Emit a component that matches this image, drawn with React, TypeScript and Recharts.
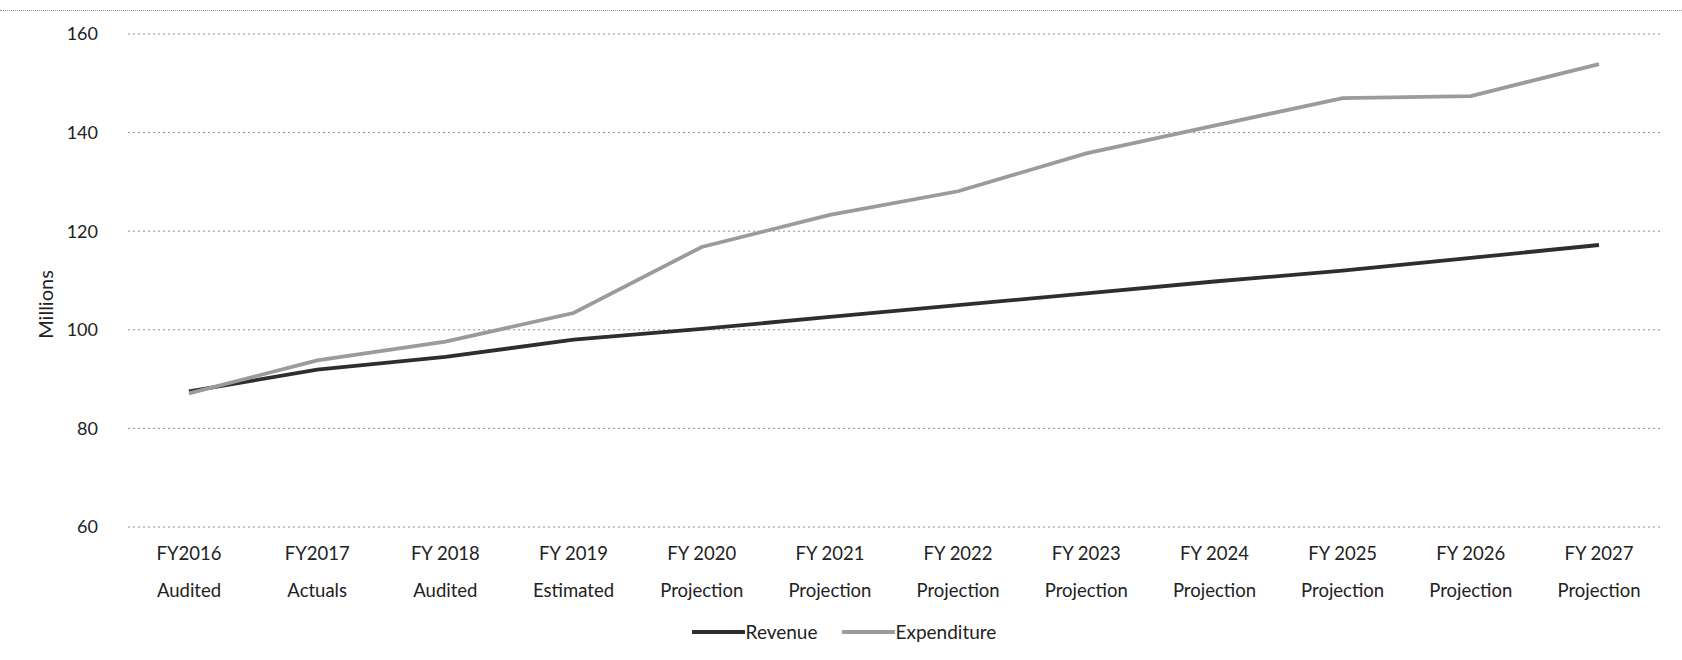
import React from 'react';
import { LineChart, Line, XAxis, YAxis, CartesianGrid, Legend, Label } from 'recharts';

const years = ['FY2016', 'FY2017', 'FY 2018', 'FY 2019', 'FY 2020', 'FY 2021', 'FY 2022', 'FY 2023', 'FY 2024', 'FY 2025', 'FY 2026', 'FY 2027'];
const stages = ['Audited', 'Actuals', 'Audited', 'Estimated', 'Projection', 'Projection', 'Projection', 'Projection', 'Projection', 'Projection', 'Projection', 'Projection'];
const revenue = [87.5, 91.9, 94.5, 98.0, 100.2, 102.6, 105.0, 107.4, 109.8, 112.0, 114.6, 117.2];
const expenditure = [87.1, 93.8, 97.6, 103.4, 116.8, 123.3, 128.1, 135.8, 141.4, 147.0, 147.4, 153.9];
const yTicks = [60, 80, 100, 120, 140, 160];

const data = years.map((y, i) => ({ year: y, stage: stages[i], Revenue: revenue[i], Expenditure: expenditure[i] }));

const FONT = 'Lato, "Open Sans", sans-serif';

const XTick = (props: any) => {
  const { x, y, payload, index } = props;
  const i = typeof index === 'number' ? index : years.indexOf(payload.value);
  return (
    <g transform={`translate(${x},${y})`}>
      <text textAnchor="middle" fontFamily={FONT} fontSize={18.5} fill="#222">
        <tspan x={0} y={32.5}>{payload.value}</tspan>
        <tspan x={0} y={70}>{stages[i]}</tspan>
      </text>
    </g>
  );
};

const LegendContent = () => {
  const items = [
    { name: 'Revenue', color: '#2e2e2e' },
    { name: 'Expenditure', color: '#9b9b9b' },
  ];
  return (
    <div style={{ display: 'flex', justifyContent: 'center', height: 40, lineHeight: '24px', paddingLeft: 25 }}>
      {items.map((it, k) => (
        <div key={it.name} style={{ display: 'flex', alignItems: 'center', marginLeft: k === 0 ? 0 : 24, height: 24 }}>
          <svg width={53} height={8} style={{ display: 'block' }}>
            <line x1={1} y1={4} x2={52} y2={4} stroke={it.color} strokeWidth={4} strokeLinecap="round" />
          </svg>
          <span style={{ fontFamily: FONT, fontSize: 19, color: '#222', marginLeft: 1 }}>{it.name}</span>
        </div>
      ))}
    </div>
  );
};

const YLabel = (props: any) => {
  const vb = props.viewBox || { x: 0, y: 34, width: 128, height: 493 };
  const cx = 45;
  const cy = vb.y + vb.height / 2 + 24;
  return (
    <text x={cx} y={cy} transform={`rotate(-90, ${cx}, ${cy})`} textAnchor="middle" dominantBaseline="central" fontFamily={FONT} fontSize={20} fill="#222">
      Millions
    </text>
  );
};

export default function App() {
  return (
    <div style={{ position: 'absolute', left: 0, top: 0, width: 1682, height: 660, background: '#fff' }}>
      <div style={{ position: 'absolute', left: 0, top: 10, width: 1682, borderTop: '1px dotted #8a8a8a' }} />
      <LineChart width={1682} height={660} data={data} margin={{ top: 34, right: 19, left: 0, bottom: 0 }}>
        <CartesianGrid vertical={false} stroke="#8f8f8f" strokeDasharray="2 3" />
        <XAxis
          dataKey="year"
          axisLine={false}
          tickLine={false}
          tickSize={0}
          tickMargin={0}
          height={93}
          interval={0}
          padding={{ left: 61, right: 64 }}
          tick={<XTick />}
        />
        <YAxis
          domain={[60, 160]}
          ticks={yTicks}
          axisLine={false}
          tickLine={false}
          tickSize={6}
          tickMargin={24}
          width={128}
          tick={{ fontFamily: FONT, fontSize: 18, fill: '#222' }}
        >
          <Label content={<YLabel />} />
        </YAxis>
        <Legend verticalAlign="bottom" height={40} content={<LegendContent />} />
        <Line type="linear" dataKey="Revenue" stroke="#2e2e2e" strokeWidth={3.8} dot={false} isAnimationActive={false} />
        <Line type="linear" dataKey="Expenditure" stroke="#9b9b9b" strokeWidth={3.8} dot={false} isAnimationActive={false} />
      </LineChart>
    </div>
  );
}
